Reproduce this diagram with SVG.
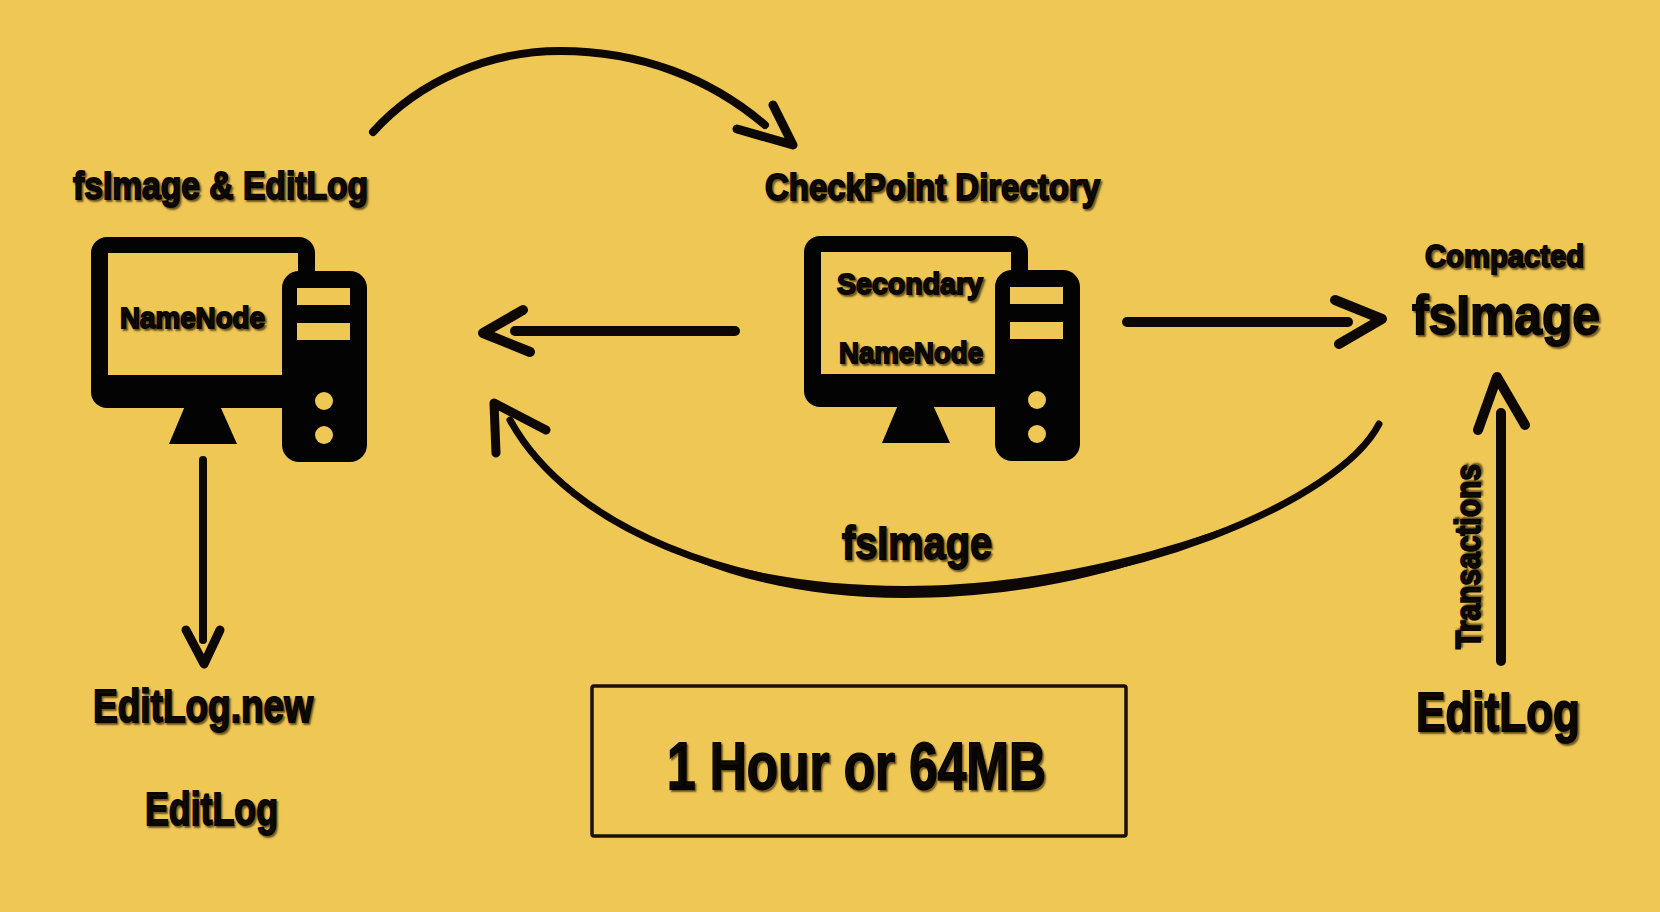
<svg xmlns="http://www.w3.org/2000/svg" width="1660" height="912" viewBox="0 0 1660 912">
<style>
text{font-family:"Liberation Sans",Arial,sans-serif;font-weight:700;fill:#080604;stroke:#080604;stroke-width:1.8px;text-shadow:2px 2px 2px rgba(40,25,0,.55)}
.c{fill:none;stroke:#0d0806;stroke-width:9;stroke-linecap:round;stroke-linejoin:round}
.t{stroke-width:7}.w{stroke-width:10}.s{stroke-width:8}
.k{fill:#030303}.y{fill:#eec755}
</style>
<defs>
<g id="pc">
<rect class="k" x="91" y="237" width="224" height="171" rx="16"/>
<rect class="y" x="108" y="253" width="190" height="122"/>
<path class="k" d="M185 406H220L237 444H169Z"/>
<rect class="k" x="282" y="271" width="85" height="191" rx="17"/>
<rect class="y" x="297" y="288" width="53" height="17"/>
<rect class="y" x="297" y="323" width="53" height="17"/>
<circle class="y" cx="324" cy="401" r="9"/>
<circle class="y" cx="324" cy="435" r="9"/>
</g>
</defs>
<rect width="1660" height="912" fill="#eec755"/>
<g id="connectors">
<path class="c s" d="M373 132C420 80 490 51 560 51C640 51 710 78 765 125"/>
<path class="c" d="M773 105L793 145L737 129"/>
<path class="c w" d="M735 331H515"/>
<path class="c w" d="M523 310L483 333L530 352"/>
<path class="c w" d="M1127 322H1348"/>
<path class="c w" d="M1335 300L1382 319L1339 344"/>
<path class="c t" d="M1379 424C1340 500 1130 591 905 592C740 592 570 530 510 420"/>
<path fill="#0d0806" d="M1260 515C1130 578 1010 598 905 598C800 598 710 576 627 528C710 568 800 586 905 586C1010 586 1130 565 1260 515Z"/>
<path class="c" d="M496 453L494 403L546 430"/>
<path class="c s" d="M203 460V640"/>
<path class="c" d="M186 630L204 664L220 630"/>
<path class="c w" d="M1501 661V413"/>
<path class="c w" d="M1478 430L1497 377L1525 425"/>
</g>
<g id="namenode">
<use href="#pc"/>
<text x="120" y="328" font-size="30" textLength="145" lengthAdjust="spacingAndGlyphs">NameNode</text>
</g>
<g id="secondary-namenode">
<use href="#pc" x="713" y="-1"/>
<text x="837" y="294" font-size="30" textLength="146" lengthAdjust="spacingAndGlyphs">Secondary</text>
<text x="839" y="363" font-size="30" textLength="144" lengthAdjust="spacingAndGlyphs">NameNode</text>
</g>
<g id="labels">
<text x="73" y="199" font-size="38" textLength="295" lengthAdjust="spacingAndGlyphs">fsImage &amp; EditLog</text>
<text x="765" y="200" font-size="36" textLength="335" lengthAdjust="spacingAndGlyphs">CheckPoint Directory</text>
<text x="1425" y="267" font-size="31" textLength="159" lengthAdjust="spacingAndGlyphs">Compacted</text>
<text x="1412" y="334" font-size="56" textLength="188" lengthAdjust="spacingAndGlyphs">fsImage</text>
<text x="842" y="559" font-size="47" textLength="150" lengthAdjust="spacingAndGlyphs">fsImage</text>
<text transform="translate(1480 649) rotate(-90)" font-size="35" textLength="185" lengthAdjust="spacingAndGlyphs">Transactions</text>
<text x="1416" y="731" font-size="56" textLength="164" lengthAdjust="spacingAndGlyphs">EditLog</text>
<text x="93" y="722" font-size="46" textLength="220" lengthAdjust="spacingAndGlyphs">EditLog.new</text>
<text x="145" y="825" font-size="46" textLength="133" lengthAdjust="spacingAndGlyphs">EditLog</text>
</g>
<g id="interval">
<rect x="592" y="686" width="534" height="150" rx="2" fill="none" stroke="#1a1005" stroke-width="3.5"/>
<text x="667" y="789" font-size="66" textLength="379" lengthAdjust="spacingAndGlyphs">1 Hour or 64MB</text>
</g>
</svg>
